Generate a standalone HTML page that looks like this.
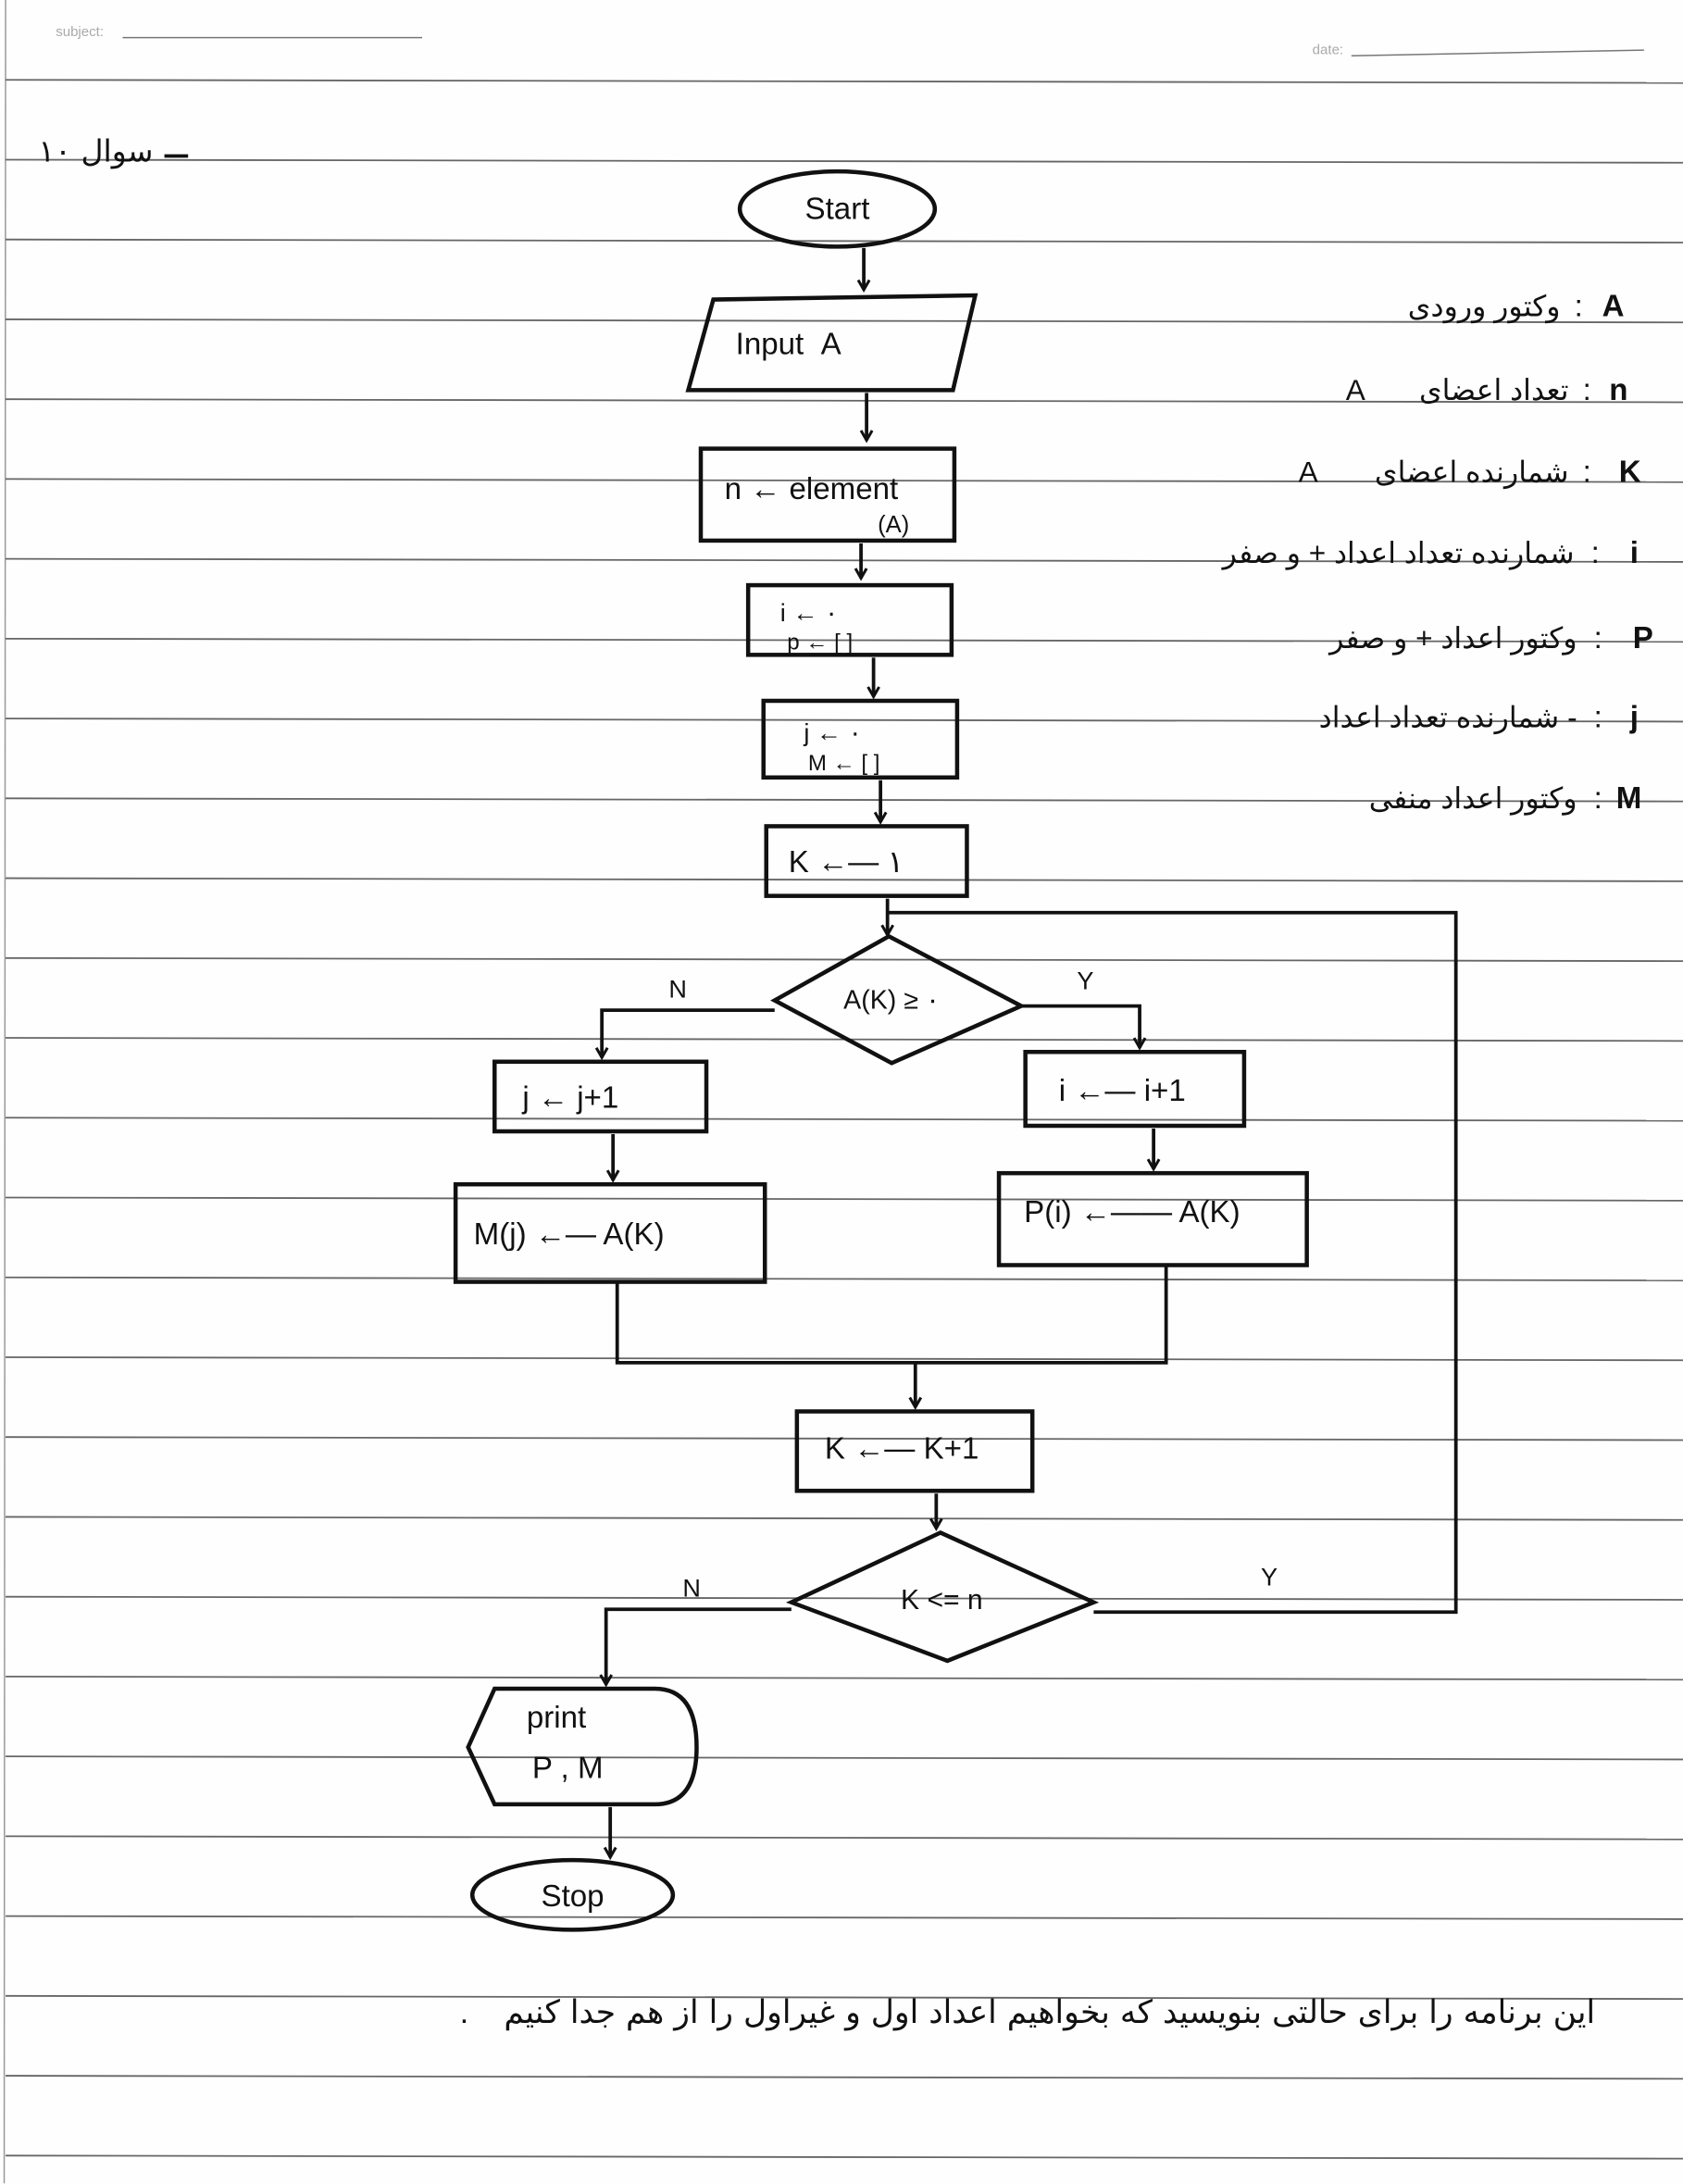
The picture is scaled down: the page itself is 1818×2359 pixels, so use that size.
<!DOCTYPE html>
<html><head><meta charset="utf-8"><style>
html,body{margin:0;padding:0;background:#fff}
svg{display:block}
text{font-family:"Liberation Sans","Noto Sans CJK SC",sans-serif;fill:#111}
.fa{font-family:"DejaVu Sans","Liberation Sans",sans-serif}
</style></head><body>
<svg width="1818" height="2359" viewBox="0 0 1208 1567.5" xmlns="http://www.w3.org/2000/svg">
<defs>
<marker id="ar" markerWidth="10" markerHeight="10" refX="8" refY="5" orient="auto" markerUnits="userSpaceOnUse">
<path d="M1,1 L8,5 L1,9" fill="none" stroke="#111" stroke-width="2"/>
</marker>
</defs>
<rect width="1208" height="1567.5" fill="#fefefe"/>
<line x1="4" y1="0" x2="3" y2="1567" stroke="#9a9a9a" stroke-width="1"/>
<g stroke="#666" stroke-width="1.2">
<line x1="4" y1="57.3" x2="1208" y2="59.5"/>
<line x1="4" y1="114.6" x2="1208" y2="116.8"/>
<line x1="4" y1="171.9" x2="1208" y2="174.1"/>
<line x1="4" y1="229.2" x2="1208" y2="231.4"/>
<line x1="4" y1="286.5" x2="1208" y2="288.7"/>
<line x1="4" y1="343.8" x2="1208" y2="346.0"/>
<line x1="4" y1="401.1" x2="1208" y2="403.3"/>
<line x1="4" y1="458.4" x2="1208" y2="460.6"/>
<line x1="4" y1="515.7" x2="1208" y2="517.9"/>
<line x1="4" y1="573.0" x2="1208" y2="575.2"/>
<line x1="4" y1="630.3" x2="1208" y2="632.5"/>
<line x1="4" y1="687.6" x2="1208" y2="689.8"/>
<line x1="4" y1="744.9" x2="1208" y2="747.1"/>
<line x1="4" y1="802.2" x2="1208" y2="804.4"/>
<line x1="4" y1="859.5" x2="1208" y2="861.7"/>
<line x1="4" y1="916.8" x2="1208" y2="919.0"/>
<line x1="4" y1="974.1" x2="1208" y2="976.3"/>
<line x1="4" y1="1031.4" x2="1208" y2="1033.6"/>
<line x1="4" y1="1088.7" x2="1208" y2="1090.9"/>
<line x1="4" y1="1146.0" x2="1208" y2="1148.2"/>
<line x1="4" y1="1203.3" x2="1208" y2="1205.5"/>
<line x1="4" y1="1260.6" x2="1208" y2="1262.8"/>
<line x1="4" y1="1317.9" x2="1208" y2="1320.1"/>
<line x1="4" y1="1375.2" x2="1208" y2="1377.4"/>
<line x1="4" y1="1432.5" x2="1208" y2="1434.7"/>
<line x1="4" y1="1489.8" x2="1208" y2="1492.0"/>
<line x1="4" y1="1547.1" x2="1208" y2="1549.3"/>
</g>
<text x="40" y="26" font-size="10" style="fill:#aaa">subject:</text>
<line x1="88" y1="27" x2="303" y2="27" stroke="#777" stroke-width="1"/>
<text x="942" y="39" font-size="10" style="fill:#aaa">date:</text>
<line x1="970" y1="40" x2="1180" y2="36" stroke="#777" stroke-width="1"/>
<text x="110" y="116" class="fa" font-size="22" text-anchor="end">سوال ۱۰</text>
<line x1="118" y1="112" x2="135" y2="112" stroke="#111" stroke-width="2.5"/>

<g fill="none" stroke="#111" stroke-width="3">
<ellipse cx="601" cy="150" rx="70" ry="27"/>
<polygon points="512,215 700,212 684,280 494,280"/>
<rect x="503" y="322" width="182" height="66"/>
<rect x="537" y="420" width="146" height="50"/>
<rect x="548" y="503" width="139" height="55"/>
<rect x="550" y="593" width="144" height="50"/>
<polygon points="556,718 638,672 733,722 640,763"/>
<rect x="355" y="762" width="152" height="50"/>
<rect x="736" y="755" width="157" height="53"/>
<rect x="327" y="850" width="222" height="70"/>
<rect x="717" y="842" width="221" height="66"/>
<rect x="572" y="1013" width="169" height="57"/>
<polygon points="568,1150 675,1100 785,1150 680,1192"/>
<path d="M355,1212 L470,1212 Q500,1212 500,1254 Q500,1295 470,1295 L355,1295 L336,1254 Z"/>
<ellipse cx="411" cy="1360" rx="72" ry="25"/>
</g>
<g fill="none" stroke="#111" stroke-width="2.5">
<line x1="620" y1="178" x2="620" y2="208" marker-end="url(#ar)"/>
<line x1="622" y1="282" x2="622" y2="316" marker-end="url(#ar)"/>
<line x1="618" y1="390" x2="618" y2="415" marker-end="url(#ar)"/>
<line x1="627" y1="472" x2="627" y2="500" marker-end="url(#ar)"/>
<line x1="632" y1="560" x2="632" y2="590" marker-end="url(#ar)"/>
<line x1="637" y1="645" x2="637" y2="671" marker-end="url(#ar)"/>
<polyline points="637,655 1045,655 1045,1157 785,1157"/>
<polyline points="556,725 432,725 432,759" marker-end="url(#ar)"/>
<polyline points="733,722 818,722 818,752" marker-end="url(#ar)"/>
<line x1="440" y1="814" x2="440" y2="847" marker-end="url(#ar)"/>
<line x1="828" y1="810" x2="828" y2="839" marker-end="url(#ar)"/>
<polyline points="443,920 443,978 837,978 837,908"/>
<line x1="657" y1="978" x2="657" y2="1010" marker-end="url(#ar)"/>
<line x1="672" y1="1072" x2="672" y2="1097" marker-end="url(#ar)"/>
<polyline points="568,1155 435,1155 435,1209" marker-end="url(#ar)"/>
<line x1="438" y1="1297" x2="438" y2="1333" marker-end="url(#ar)"/>
</g>
<g font-size="22">
<text x="601" y="157" text-anchor="middle">Start</text>
<text x="528" y="254">Input&#160;&#160;A</text>
<text x="520" y="358">n ← element</text>
<text x="630" y="382" font-size="17">(A)</text>
<text x="560" y="446" font-size="18">i ← ۰</text>
<text x="565" y="466" font-size="16">p ← [ ]</text>
<text x="577" y="532" font-size="18">j ← ۰</text>
<text x="580" y="553" font-size="16">M ← [ ]</text>
<text x="566" y="626">K ←— ۱</text>
<text x="640" y="724" text-anchor="middle" font-size="19">A(K) ≥ ۰</text>
<text x="480" y="716" font-size="18">N</text>
<text x="773" y="710" font-size="18">Y</text>
<text x="375" y="795">j ← j+1</text>
<text x="760" y="790">i ←— i+1</text>
<text x="340" y="893">M(j) ←— A(K)</text>
<text x="735" y="877">P(i) ←—— A(K)</text>
<text x="592" y="1047">K ←— K+1</text>
<text x="676" y="1155" text-anchor="middle" font-size="20">K &lt;= n</text>
<text x="490" y="1146" font-size="18">N</text>
<text x="905" y="1138" font-size="18">Y</text>
<text x="378" y="1240">print</text>
<text x="382" y="1276">P , M</text>
<text x="411" y="1368" text-anchor="middle">Stop</text>
</g>
<g font-size="22">
<text x="1150" y="227" font-weight="bold">A</text>
<text x="1155" y="287" font-weight="bold">n</text>
<text x="1162" y="346" font-weight="bold">K</text>
<text x="1170" y="404" font-weight="bold">i</text>
<text x="1172" y="465" font-weight="bold">P</text>
<text x="1170" y="522" font-weight="bold">j</text>
<text x="1160" y="580" font-weight="bold">M</text>
<text x="1130" y="227">:</text>
<text x="1136" y="287">:</text>
<text x="1136" y="346">:</text>
<text x="1142" y="404">:</text>
<text x="1144" y="465">:</text>
<text x="1144" y="522">:</text>
<text x="1144" y="580">:</text>
</g>
<g class="fa" font-size="21" text-anchor="end">
<text x="1120" y="227">وکتور ورودی</text>
<text x="1126" y="287">تعداد اعضای</text>
<text x="980" y="287" font-family="Liberation Sans">A</text>
<text x="1126" y="346">شمارنده اعضای</text>
<text x="946" y="346" font-family="Liberation Sans">A</text>
<text x="1130" y="404">شمارنده تعداد اعداد + و صفر</text>
<text x="1132" y="465">وکتور اعداد + و صفر</text>
<text x="1132" y="522">شمارنده تعداد اعداد -</text>
<text x="1132" y="580">وکتور اعداد منفی</text>
</g>
<text x="1145" y="1452" class="fa" font-size="23" text-anchor="end">این برنامه را برای حالتی بنویسید که بخواهیم اعداد اول و غیراول را از هم جدا کنیم</text>
<text x="330" y="1452" font-size="23">.</text>
</svg>
</body></html>
